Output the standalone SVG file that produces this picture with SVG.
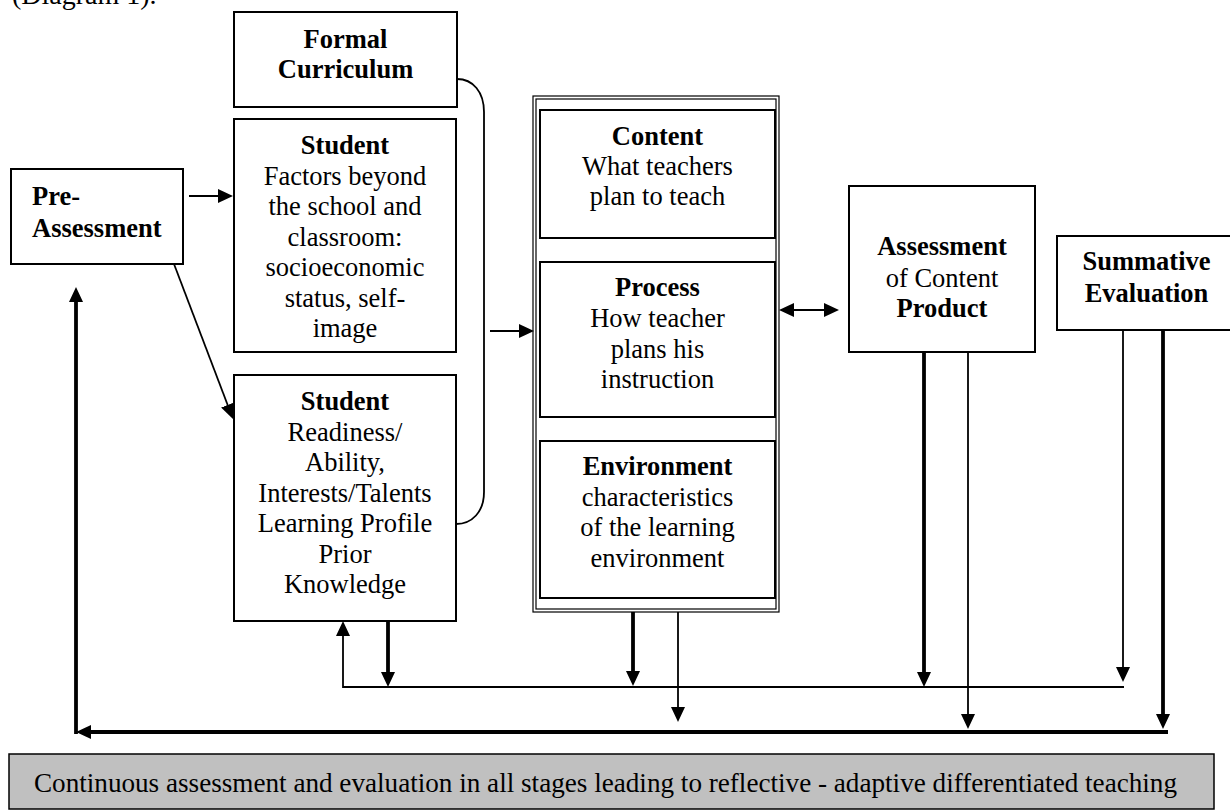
<svg xmlns="http://www.w3.org/2000/svg" width="1230" height="811" viewBox="0 0 1230 811">
<style>
.box{fill:#fff;stroke:#000;stroke-width:2}
.frame{fill:none;stroke:#000;stroke-width:1.2}
.t{font-family:"Liberation Serif","Times New Roman",serif;font-size:26.5px;fill:#000;text-anchor:middle}
.l{text-anchor:start}
.b{font-weight:bold}
.thin{stroke:#000;stroke-width:1.8;fill:none}
.thick{stroke:#000;stroke-width:3.8;fill:none}
</style>
<defs>
<marker id="ah" markerWidth="15" markerHeight="14" refX="10" refY="7" orient="auto-start-reverse" markerUnits="userSpaceOnUse">
<path d="M0,0 L15,7 L0,14 z" fill="#000"/>
</marker>
</defs>
<rect width="1230" height="811" fill="#fff"/>
<text class="t l" x="12" y="4" style="font-size:28px">(Diagram 1).</text>

<g id="formal-curriculum">
<rect class="box" x="234" y="12" width="223" height="95"/>
<text class="t b" x="345.5" y="48">Formal</text>
<text class="t b" x="345.5" y="78">Curriculum</text>
</g>

<g id="student-factors">
<rect class="box" x="234" y="119" width="222" height="233"/>
<text class="t b" x="345" y="154">Student</text>
<text class="t" x="345" y="184.5">Factors beyond</text>
<text class="t" x="345" y="215">the school and</text>
<text class="t" x="345" y="245.5">classroom:</text>
<text class="t" x="345" y="276">socioeconomic</text>
<text class="t" x="345" y="306.5">status, self-</text>
<text class="t" x="345" y="337">image</text>
</g>

<g id="student-readiness">
<rect class="box" x="234" y="375" width="222" height="246"/>
<text class="t b" x="345" y="410">Student</text>
<text class="t" x="345" y="440.5">Readiness/</text>
<text class="t" x="345" y="471">Ability,</text>
<text class="t" x="345" y="501.5">Interests/Talents</text>
<text class="t" x="345" y="532">Learning Profile</text>
<text class="t" x="345" y="562.5">Prior</text>
<text class="t" x="345" y="593">Knowledge</text>
</g>

<g id="pre-assessment">
<rect class="box" x="11" y="169" width="172" height="95"/>
<text class="t b l" x="32" y="205">Pre-</text>
<text class="t b l" x="32" y="237">Assessment</text>
</g>

<g id="container">
<rect class="frame" x="533" y="96" width="246" height="516"/>
<rect class="frame" x="536" y="99" width="240" height="510"/>
</g>

<g id="content">
<rect class="box" x="540" y="110" width="235" height="128"/>
<text class="t b" x="657.5" y="145">Content</text>
<text class="t" x="657.5" y="175">What teachers</text>
<text class="t" x="657.5" y="205">plan to teach</text>
</g>

<g id="process">
<rect class="box" x="540" y="262" width="235" height="155"/>
<text class="t b" x="657.5" y="296">Process</text>
<text class="t" x="657.5" y="327">How teacher</text>
<text class="t" x="657.5" y="357.5">plans his</text>
<text class="t" x="657.5" y="388">instruction</text>
</g>

<g id="environment">
<rect class="box" x="540" y="441" width="235" height="157"/>
<text class="t b" x="657.5" y="475">Environment</text>
<text class="t" x="657.5" y="505.5">characteristics</text>
<text class="t" x="657.5" y="536">of the learning</text>
<text class="t" x="657.5" y="566.5">environment</text>
</g>

<g id="assessment-product">
<rect class="box" x="849" y="186" width="186" height="166"/>
<text class="t b" x="942" y="255">Assessment</text>
<text class="t" x="942" y="287">of Content</text>
<text class="t b" x="942" y="317">Product</text>
</g>

<g id="summative-evaluation">
<rect class="box" x="1057" y="236" width="180" height="94"/>
<text class="t b" x="1146.5" y="270">Summative</text>
<text class="t b" x="1146.5" y="302">Evaluation</text>
</g>

<g id="continuous-banner">
<rect x="9" y="754" width="1205" height="55" fill="#c0c0c0" stroke="#000" stroke-width="1.5"/>
<text class="t l" x="34" y="792" style="font-size:27px" textLength="1143" lengthAdjust="spacingAndGlyphs">Continuous assessment and evaluation in all stages leading to reflective - adaptive  differentiated teaching</text>
</g>

<g id="connectors">
<path class="thin" d="M189,196 H228" marker-end="url(#ah)"/>
<path class="thin" d="M174,264 L231.2,414.3" marker-end="url(#ah)"/>
<path class="thin" d="M457,79 C473,79 484,92 484,112 L484,492 C484,512 472,524 456,524"/>
<path class="thin" d="M490,331 H529" marker-end="url(#ah)"/>
<path class="thin" d="M784,310 H834" marker-start="url(#ah)" marker-end="url(#ah)"/>
<path class="thick" d="M76,734 V292" marker-end="url(#ah)"/>
<path class="thick" d="M1168,732 H81" marker-end="url(#ah)"/>
<path class="thin" d="M1124,687 H343 V626" marker-end="url(#ah)"/>
<path class="thick" d="M388,621 V682" marker-end="url(#ah)"/>
<path class="thick" d="M633,612 V681" marker-end="url(#ah)"/>
<path class="thin" d="M678,612 V717" marker-end="url(#ah)"/>
<path class="thick" d="M924,352 V682" marker-end="url(#ah)"/>
<path class="thin" d="M968,352 V724" marker-end="url(#ah)"/>
<path class="thin" d="M1123,330 V677" marker-end="url(#ah)"/>
<path class="thick" d="M1163,330 V724" marker-end="url(#ah)"/>
</g>
</svg>
